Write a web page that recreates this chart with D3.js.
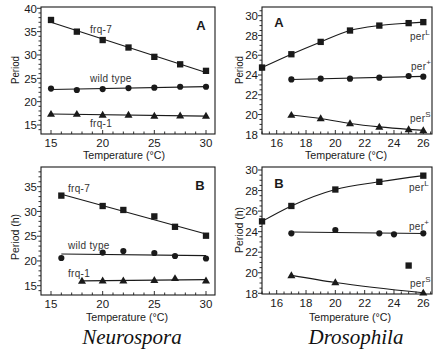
<!DOCTYPE html>
<html><head><meta charset="utf-8">
<script src="https://cdn.jsdelivr.net/npm/d3@7"></script>
<style>
body{margin:0;background:#fff;}
svg{display:block;font-family:"Liberation Sans",Arial,sans-serif;}
</style></head>
<body>
<svg id="c" width="433" height="358"></svg>
<script>
// ---------- data ----------
// Neurospora A
const nA_temps = [15, 17.5, 20, 22.5, 25, 27.5, 30];
const nA_frq7 = [37.5, 35.0, 33.2, 31.6, 29.6, 28.0, 26.6];
const nA_wt   = [22.8, 22.5, 22.7, 22.9, 23.0, 23.2, 23.2];
const nA_frq1 = [17.35, 17.35, 17.15, 17.15, 16.95, 17.0, 16.95];
// Neurospora B
const nB_temps_frq7 = [16, 20, 22, 25, 27, 30];
const nB_frq7 = [33.2, 31.1, 30.3, 29.0, 26.9, 25.1];
const nB_temps_wt = [16, 20, 22, 25, 27, 30];
const nB_wt = [20.6, 21.7, 22.0, 21.6, 21.0, 20.5];
const nB_temps_frq1 = [18, 20, 22, 25, 27, 30];
const nB_frq1 = [15.95, 16.0, 16.0, 16.1, 16.5, 16.0];
// Drosophila A
const dA_temps_L = [15, 17, 19, 21, 23, 25, 26];
const dA_perL = [24.75, 26.1, 27.35, 28.5, 29.0, 29.25, 29.35];
const dA_temps = [17, 19, 21, 23, 25, 26];
const dA_perPlus = [23.55, 23.63, 23.63, 23.73, 23.9, 23.83];
const dA_perS = [19.95, 19.6, 19.1, 18.75, 18.5, 18.4];
// Drosophila B
const dB_temps_L = [15, 17, 20, 23, 26];
const dB_perL = [25.0, 26.5, 28.1, 28.85, 29.45];
const dB_outlier = [[25, 20.7]];
const dB_temps_plus = [17, 20, 23, 24, 26];
const dB_perPlus = [23.84, 24.16, 23.84, 23.74, 23.84];
const dB_temps_S = [17, 20, 26];
const dB_perS = [19.75, 19.05, 18.05];

const nXTicks = [15, 20, 25, 30];
const nAYTicks = [15, 20, 25, 30, 35, 40];
const nBYTicks = [15, 20, 25, 30, 35];
const dXTicks = [16, 18, 20, 22, 24, 26];
const dYTicks = [18, 20, 22, 24, 26, 28, 30];

// ---------- drawing ----------
const svg = d3.select("#c");
const ink = "#1a1a1a";

function panel(cfg){
  const g = svg.append("g");
  const x = d3.scaleLinear().domain(cfg.xd).range(cfg.xr);
  const y = d3.scaleLinear().domain(cfg.yd).range(cfg.yr);
  const f = cfg.frame; // [x0,y0,x1,y1]
  g.append("rect").attr("x", f[0]).attr("y", f[1]).attr("width", f[2]-f[0]).attr("height", f[3]-f[1])
    .attr("fill","none").attr("stroke", ink).attr("stroke-width", 1.1);
  const xmin = x.invert(f[0]), xmax = x.invert(f[2]);
  const xm = d3.range(Math.ceil(xmin/cfg.xminor)*cfg.xminor, xmax+1e-9, cfg.xminor);
  g.selectAll(null).data(xm).join("line")
    .attr("x1", d=>x(d)).attr("x2", d=>x(d))
    .attr("y1", f[3]).attr("y2", d => f[3] - (cfg.xTicks.includes(+d.toFixed(2)) ? 4 : 2.5))
    .attr("stroke", ink).attr("stroke-width", 0.9);
  g.selectAll(null).data(cfg.xTicks).join("text")
    .attr("x", d=>x(d)).attr("y", f[3]+13).attr("text-anchor","middle")
    .attr("font-size", 11.5).attr("fill", ink).text(d=>d);
  const ymin = y.invert(f[3]), ymax = y.invert(f[1]);
  const ym = d3.range(Math.ceil(ymin/cfg.yminor)*cfg.yminor, ymax+1e-9, cfg.yminor);
  g.selectAll(null).data(ym).join("line")
    .attr("y1", d=>y(d)).attr("y2", d=>y(d))
    .attr("x1", f[0]).attr("x2", d => f[0] - (cfg.yTicks.includes(+d.toFixed(2)) ? 4 : 2.5))
    .attr("stroke", ink).attr("stroke-width", 0.9);
  g.selectAll(null).data(cfg.yTicks).join("text")
    .attr("x", f[0]-4).attr("y", d=>y(d)+4.2).attr("text-anchor","end")
    .attr("font-size", 11.5).attr("fill", ink).text(d=>d);
  g.append("text").attr("x", cfg.xtPos[0]).attr("y", cfg.xtPos[1]).attr("text-anchor","middle")
    .attr("font-size", 11.5).attr("textLength", 82).attr("lengthAdjust","spacingAndGlyphs")
    .attr("fill", ink).text("Temperature (°C)");
  g.append("text").attr("transform", `translate(${cfg.ytPos[0]},${cfg.ytPos[1]}) rotate(-90)`)
    .attr("text-anchor","middle").attr("font-size", 11.5)
    .attr("textLength", cfg.ytitle.length > 6 ? 46 : 28).attr("lengthAdjust","spacingAndGlyphs")
    .attr("fill", ink).text(cfg.ytitle);
  g.append("text").attr("x", cfg.letterPos[0]).attr("y", cfg.letterPos[1]).attr("text-anchor","middle")
    .attr("font-size", 13).attr("font-weight","bold").attr("fill", ink).text(cfg.letter);
  return {g, x, y};
}

function regression(xs, ys){
  const mx = d3.mean(xs), my = d3.mean(ys);
  let num=0, den=0;
  xs.forEach((v,i)=>{num += (v-mx)*(ys[i]-my); den += (v-mx)*(v-mx);});
  const b = num/den, a = my - b*mx;
  const x0 = d3.min(xs), x1 = d3.max(xs);
  return [[x0, a+b*x0],[x1, a+b*x1]];
}

function fitLine(p, pts, curve){
  p.g.append("path").datum(pts)
    .attr("d", d3.line().x(d=>p.x(d[0])).y(d=>p.y(d[1])).curve(curve || d3.curveLinear))
    .attr("fill","none").attr("stroke", ink).attr("stroke-width", 1.1);
}
function markers(p, xs, ys, shape){
  const pts = xs.map((v,i)=>[v, ys[i]]);
  const sym = shape==="square" ? d3.symbolSquare : shape==="circle" ? d3.symbolCircle : d3.symbolTriangle;
  const size = shape==="square" ? 40 : shape==="circle" ? 30 : 28;
  p.g.selectAll(null).data(pts).join("path")
    .attr("transform", d=>`translate(${p.x(d[0])},${p.y(d[1]) + (shape==="triangle"?0.5:0)})`)
    .attr("d", d3.symbol().type(sym).size(size)).attr("fill", ink);
}
function label(p, px, py, txt, sup){
  const t = p.g.append("text").attr("x", px).attr("y", py).attr("font-size", 10).attr("fill", "#333")
    .attr("letter-spacing", 0.3).text(txt);
  if (sup) t.append("tspan").attr("dy", -5).attr("font-size", 8).text(sup);
}
const zip = (a,b)=>a.map((v,i)=>[v,b[i]]);

// Neurospora A
const pNA = panel({xd:[15,30], xr:[51,206], yd:[15,40], yr:[125,8.3], frame:[41,7,215,134],
  xminor:1, yminor:1, xTicks:nXTicks, yTicks:nAYTicks, xtPos:[124,159], ytPos:[19,70], ytitle:"Period",
  letter:"A", letterPos:[201,30]});
fitLine(pNA, regression(nA_temps, nA_frq7));
fitLine(pNA, regression(nA_temps, nA_wt));
fitLine(pNA, regression(nA_temps, nA_frq1));
markers(pNA, nA_temps, nA_frq7, "square");
markers(pNA, nA_temps, nA_wt, "circle");
markers(pNA, nA_temps, nA_frq1, "triangle");
label(pNA, 90, 33, "frq-7");
label(pNA, 90, 82, "wild type");
label(pNA, 90, 127, "frq-1");

// Neurospora B
const pNB = panel({xd:[15,30], xr:[51,206], yd:[15,35], yr:[285.7,186.7], frame:[41,167,215,295],
  xminor:1, yminor:1, xTicks:nXTicks, yTicks:nBYTicks, xtPos:[127,321], ytPos:[19,237], ytitle:"Period (h)",
  letter:"B", letterPos:[200,190]});
fitLine(pNB, regression(nB_temps_frq7, nB_frq7));
fitLine(pNB, regression(nB_temps_wt, nB_wt));
fitLine(pNB, regression(nB_temps_frq1, nB_frq1));
markers(pNB, nB_temps_frq7, nB_frq7, "square");
markers(pNB, nB_temps_wt, nB_wt, "circle");
markers(pNB, nB_temps_frq1, nB_frq1, "triangle");
label(pNB, 68, 192, "frq-7");
label(pNB, 68, 249, "wild type");
label(pNB, 68, 277, "frq-1");

// Drosophila A
const pDA = panel({xd:[16,26], xr:[276.7,423.3], yd:[18,30], yr:[134.3,15.7], frame:[262,7,432,134],
  xminor:0.5, yminor:0.5, xTicks:dXTicks, yTicks:dYTicks, xtPos:[346,159], ytPos:[243,70], ytitle:"Period",
  letter:"A", letterPos:[279,27]});
fitLine(pDA, zip(dA_temps_L, dA_perL), d3.curveMonotoneX);
fitLine(pDA, regression(dA_temps, dA_perPlus));
fitLine(pDA, zip(dA_temps, dA_perS), d3.curveMonotoneX);
markers(pDA, dA_temps_L, dA_perL, "square");
markers(pDA, dA_temps, dA_perPlus, "circle");
markers(pDA, dA_temps, dA_perS, "triangle");
label(pDA, 410, 40, "per", "L");
label(pDA, 411, 70, "per", "+");
label(pDA, 410, 122, "per", "S");

// Drosophila B
const pDB = panel({xd:[16,26], xr:[276.7,423.3], yd:[18,30], yr:[293.3,170], frame:[262,167,432,294],
  xminor:0.5, yminor:0.5, xTicks:dXTicks, yTicks:dYTicks, xtPos:[350,321], ytPos:[243,230], ytitle:"Period (h)",
  letter:"B", letterPos:[279,188]});
fitLine(pDB, zip(dB_temps_L, dB_perL), d3.curveMonotoneX);
fitLine(pDB, regression(dB_temps_plus, dB_perPlus));
fitLine(pDB, zip(dB_temps_S, dB_perS), d3.curveMonotoneX);
markers(pDB, dB_temps_L, dB_perL, "square");
markers(pDB, dB_outlier.map(d=>d[0]), dB_outlier.map(d=>d[1]), "square");
markers(pDB, dB_temps_plus, dB_perPlus, "circle");
markers(pDB, dB_temps_S, dB_perS, "triangle");
label(pDB, 409, 191, "per", "L");
label(pDB, 409, 230, "per", "+");
label(pDB, 410, 287, "per", "S");

// captions
svg.append("text").attr("x", 132).attr("y", 344).attr("text-anchor","middle")
  .attr("font-family","'Liberation Serif','Times New Roman',serif").attr("font-style","italic")
  .attr("font-size", 21).attr("fill","#111").text("Neurospora");
svg.append("text").attr("x", 356).attr("y", 344).attr("text-anchor","middle")
  .attr("font-family","'Liberation Serif','Times New Roman',serif").attr("font-style","italic")
  .attr("font-size", 21).attr("fill","#111").text("Drosophila");
</script>
</body></html>
